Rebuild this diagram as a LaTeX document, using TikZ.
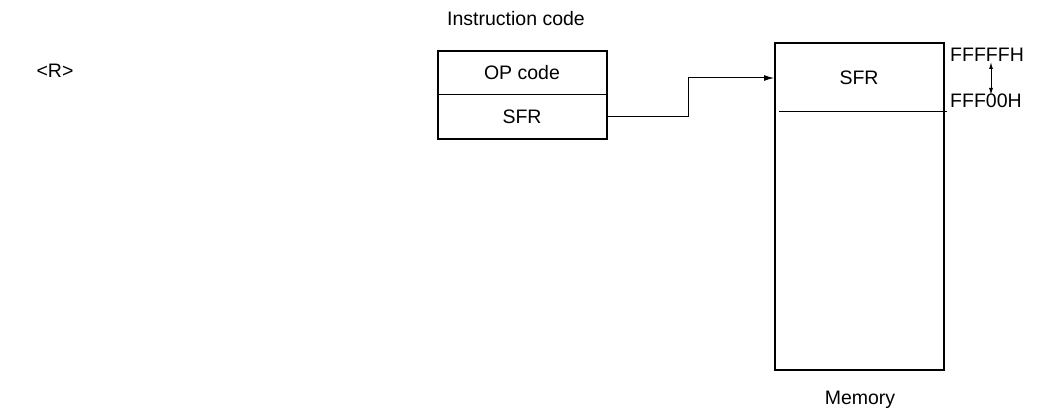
\documentclass[tikz,border=0pt]{standalone}
\usepackage{fontspec}
\setmainfont{Liberation Sans}
\usetikzlibrary{arrows.meta}
\begin{document}
\begin{tikzpicture}[x=1pt,y=-1pt,
  lbl/.style={inner sep=0pt,font=\fontsize{19.5}{23}\selectfont},
  frame/.style={draw,line width=1.8pt},
  wire/.style={draw,line width=1pt},
  tip/.style={-{Latex[length=10pt,width=6pt]}}]
\useasboundingbox (0,0) rectangle (1042,412);
% left marker
\node[lbl] (mark) at (55,71) {<R>};
% instruction word: OP code over SFR field
\node[lbl] (ictitle) at (516,19) {Instruction code};
\draw[frame] (438,51) rectangle (607,139);
\coordinate (icsplit) at (438,95);
\draw[wire] (icsplit) -- (607,95);
\node[lbl] (op) at (522,73) {OP code};
\node[lbl] (sfrf) at (522,117) {SFR};
\coordinate (icout) at (607,116);
% memory map
\draw[frame] (775,43) rectangle (944,370);
\coordinate (msplitL) at (779,111);
\coordinate (msplitR) at (947,111);
\draw[wire] (msplitL) -- (msplitR);
\node[lbl] (msfr) at (859,78) {SFR};
\node[lbl] (mem) at (860,400) {Memory};
\coordinate (memin) at (774,78);
\draw[wire,tip] (icout) -- (688,116) -- (688,78) -- (memin);
% address range of the SFR area
\node[lbl,anchor=west] (hi) at (950,55) {FFFFFH};
\node[lbl,anchor=west] (lo) at (950,101) {FFF00H};
\draw[wire,{Latex[length=7pt,width=4pt]}-{Latex[length=7pt,width=4pt]}] (991,62) -- (991,95);
\end{tikzpicture}
\end{document}
